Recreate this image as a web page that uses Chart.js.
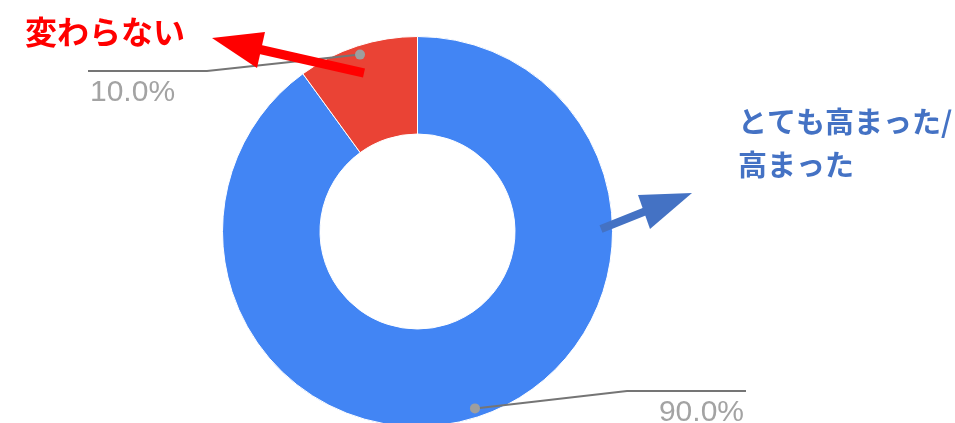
<!DOCTYPE html>
<html>
<head>
<meta charset="utf-8">
<script src="https://cdn.jsdelivr.net/npm/chart.js@4.4.0/dist/chart.umd.min.js"></script>
<style>
    html, body { margin: 0; padding: 0; background: #fff; overflow: hidden; }
    #wrap { position: relative; width: 955px; height: 463px; }
</style>
</head>
<body>
<div id="wrap"><canvas id="donut"></canvas></div>
<script>
// データ
const labels = ['とても高まった/高まった', '変わらない'];
const values = [90, 10];
const colors = ['#4285F4', '#EA4335'];

// 引き出し線とラベルの配置 (スライス順)
const callouts = [
    { elbow: [627, 391], end: 746, align: 'right', text: [744, 421] },
    { elbow: [207, 71], end: 88, align: 'left', text: [90, 101] }
];

// 注釈 (矢印 + テキスト)
const notes = [
    {
        color: '#FF0000', size: 32, lines: [labels[1]], at: [25, 44], gap: 0,
        shaft: [[364, 73], [258, 49]], width: 9,
        head: [[212, 38], [265, 32], [257, 68]]
    },
    {
        color: '#4472C4', size: 29, lines: ['とても高まった/', '高まった'], at: [738, 133], gap: 43,
        shaft: [[601, 229], [646, 211]], width: 8,
        head: [[692, 193], [638, 195], [650, 229]]
    }
];

const calloutPlugin = {
    id: 'callouts',
    afterDraw(chart) {
        const ctx = chart.ctx;
        const meta = chart.getDatasetMeta(0);
        const total = values.reduce((a, b) => a + b, 0);

        meta.data.forEach((arc, i) => {
            const p = arc.getProps(['x', 'y', 'startAngle', 'endAngle', 'outerRadius'], true);
            const mid = (p.startAngle + p.endAngle) / 2;
            const r = p.outerRadius - 9;
            const dx = p.x + Math.cos(mid) * r;
            const dy = p.y + Math.sin(mid) * r;
            const c = callouts[i];

            ctx.save();
            ctx.strokeStyle = '#757575';
            ctx.lineWidth = 2;
            ctx.beginPath();
            ctx.moveTo(dx, dy);
            ctx.lineTo(c.elbow[0], c.elbow[1]);
            ctx.lineTo(c.end, c.elbow[1]);
            ctx.stroke();

            ctx.fillStyle = '#9E9E9E';
            ctx.beginPath();
            ctx.arc(dx, dy, 5, 0, Math.PI * 2);
            ctx.fill();

            ctx.font = '30px "Liberation Sans", Arial, sans-serif';
            ctx.fillStyle = '#A3A3A3';
            ctx.textAlign = c.align;
            ctx.textBaseline = 'alphabetic';
            ctx.fillText((values[i] / total * 100).toFixed(1) + '%', c.text[0], c.text[1]);
            ctx.restore();
        });

        notes.forEach(n => {
            ctx.save();
            ctx.strokeStyle = n.color;
            ctx.fillStyle = n.color;
            ctx.lineWidth = n.width;
            ctx.beginPath();
            ctx.moveTo(n.shaft[0][0], n.shaft[0][1]);
            ctx.lineTo(n.shaft[1][0], n.shaft[1][1]);
            ctx.stroke();
            ctx.beginPath();
            ctx.moveTo(n.head[0][0], n.head[0][1]);
            ctx.lineTo(n.head[1][0], n.head[1][1]);
            ctx.lineTo(n.head[2][0], n.head[2][1]);
            ctx.closePath();
            ctx.fill();

            ctx.font = 'bold ' + n.size + 'px "Noto Sans CJK JP", sans-serif';
            ctx.textAlign = 'left';
            ctx.textBaseline = 'alphabetic';
            n.lines.forEach((t, k) => {
                ctx.fillText(t, n.at[0], n.at[1] + k * n.gap);
            });
            ctx.restore();
        });
    }
};

const ctx = document.getElementById('donut').getContext('2d');
new Chart(ctx, {
    type: 'doughnut',
    data: {
        labels: labels,
        datasets: [{
            data: values,
            backgroundColor: colors,
            borderColor: '#ffffff',
            borderWidth: 1
        }]
    },
    options: {
        responsive: true,
        maintainAspectRatio: false,
        animation: false,
        cutout: '50%',
        layout: {
            padding: { left: 222, right: 342, top: 36, bottom: 36 }
        },
        plugins: {
            legend: { display: false },
            tooltip: { enabled: false }
        }
    },
    plugins: [calloutPlugin]
});
</script>
</body>
</html>
